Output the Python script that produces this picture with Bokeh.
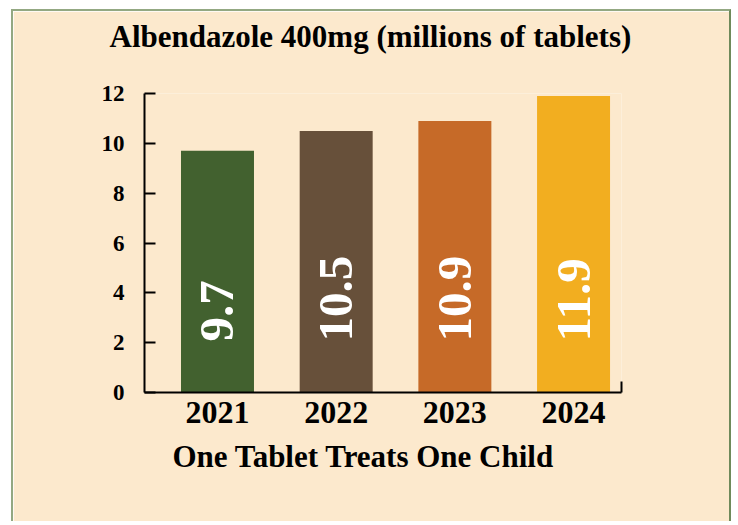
import math
from bokeh.plotting import figure
from bokeh.models import ColumnDataSource, FixedTicker, Range1d, Title
from bokeh.embed import file_html
from bokeh.resources import INLINE
from bokeh.core.properties import value

# ---- data ----
years = ["2021", "2022", "2023", "2024"]
tablets = [9.7, 10.5, 10.9, 11.9]
bar_colors = ["#42612F", "#67503A", "#C66A28", "#F2AE20"]
y_ticks = [0, 2, 4, 6, 8, 10, 12]
title_text = "Albendazole 400mg (millions of tablets)"
x_title = "One Tablet Treats One Child"

BG = "#FCE9CD"
FONT = "Liberation Serif"

pos = list(range(1, len(years) + 1))
value_labels = [f"{v:.1f}" for v in tablets]
src = ColumnDataSource(dict(x=pos, top=tablets, color=bar_colors, label=value_labels))

X0, X1 = 0.385, 4.404
W, H = 720, 512
p = figure(width=W, height=H,
           x_range=Range1d(X0, X1), y_range=Range1d(0, 12),
           output_backend="svg", toolbar_location=None,
           min_border_left=131, min_border_right=112,
           min_border_top=82, min_border_bottom=H - 381)
p.title_location = None
p.margin = (9, 0, 0, 11)
p.styles = {"border-left": "2px solid #93A882",
            "border-top": "2px solid #93A882",
            "border-right": "2px solid #6F8A5A"}
p.background_fill_color = BG
p.border_fill_color = BG
p.outline_line_color = None
p.xgrid.visible = False
p.ygrid.visible = False

# spacer between frame and chart title, then the title itself
p.add_layout(Title(text=" ", standoff=37, text_font_size="1px",
                   text_color=BG), "above")
p.add_layout(Title(text=title_text, align="left", offset=-35, standoff=0,
                   text_font=FONT, text_font_style="bold",
                   text_font_size="31px", text_color="black"), "above")

p.add_layout(Title(text=x_title, align="left", offset=28, standoff=22,
                   text_font=FONT, text_font_style="bold",
                   text_font_size="31px", text_color="black"), "below")

p.vbar(x="x", top="top", bottom=0, width=0.615, color="color", line_color=None, source=src)

p.text(x="x", y=2.05, text="label", angle=math.pi / 2,
       text_align="left", text_baseline="middle",
       text_color="white", text_font=value(FONT), text_font_style="bold",
       text_font_size="49px", source=src)

# x axis
xa = p.xaxis[0]
xa.ticker = FixedTicker(ticks=pos, minor_ticks=[X1])
xa.major_label_overrides = {i: y for i, y in zip(pos, years)}
xa.major_tick_in = 0
xa.major_tick_out = 0
xa.minor_tick_in = 11
xa.minor_tick_out = 0
xa.minor_tick_line_width = 2
xa.minor_tick_line_color = "black"
xa.axis_line_width = 2
xa.axis_line_color = "black"
xa.major_label_standoff = 9
xa.major_label_text_font = FONT
xa.major_label_text_font_style = "bold"
xa.major_label_text_font_size = "32px"
xa.major_label_text_color = "black"

# y axis
ya = p.yaxis[0]
ya.ticker = FixedTicker(ticks=y_ticks)
ya.major_tick_in = 11
ya.major_tick_out = 0
ya.major_tick_line_width = 2
ya.major_tick_line_color = "black"
ya.minor_tick_line_color = None
ya.axis_line_width = 2
ya.axis_line_color = "black"
ya.major_label_standoff = 20
ya.major_label_text_font = FONT
ya.major_label_text_font_style = "bold"
ya.major_label_text_font_size = "23px"
ya.major_label_text_color = "black"

open("out.html", "w").write(file_html(p, INLINE))
